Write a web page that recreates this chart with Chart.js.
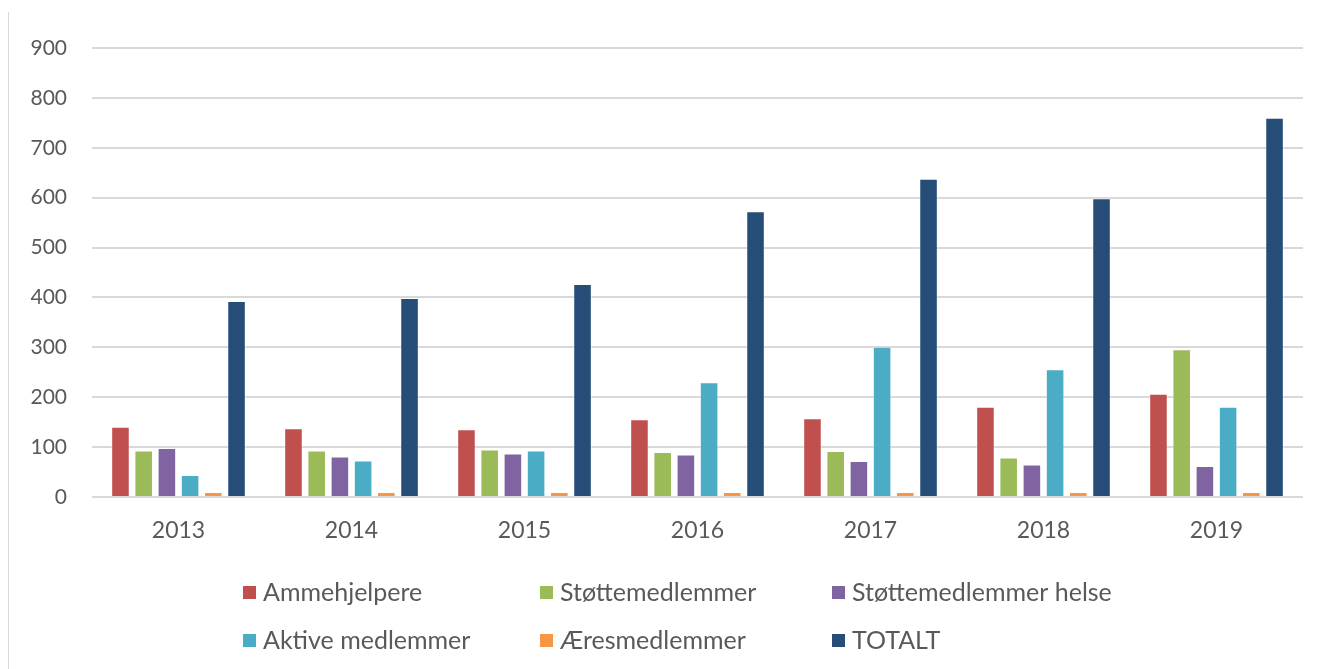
<!DOCTYPE html>
<html>
<head>
<meta charset="utf-8">
<script src="https://cdn.jsdelivr.net/npm/chart.js@4"></script>
<style>
  html, body { margin: 0; padding: 0; background: #fff; }
  #wrap { position: relative; width: 1327px; height: 669px; }
  #frame { position: absolute; left: 8px; top: 12px; bottom: 0; border-left: 1px solid #d9d9d9; }
  canvas { position: absolute; left: 0; top: 0; }
</style>
</head>
<body>
<div id="wrap">
  <div id="frame"></div>
  <canvas id="chart" width="1327" height="669"></canvas>
</div>
<script>
const years = ["2013", "2014", "2015", "2016", "2017", "2018", "2019"];

const ammehjelpere = [141, 138, 136, 156, 158, 181, 207];
const stottemedlemmer = [93, 93, 95, 90, 92, 79, 296];
const stottemedlemmerHelse = [98, 81, 87, 85, 72, 65, 62];
const aktiveMedlemmer = [44, 73, 93, 230, 301, 256, 181];
const aeresmedlemmer = [10, 10, 10, 10, 10, 10, 10];
const totalt = [393, 399, 427, 573, 638, 599, 760];

const yTicks = [0, 100, 200, 300, 400, 500, 600, 700, 800, 900];

const textColor = "#595959";
const gridColor = "#d9d9d9";

const series = [
  { label: "Ammehjelpere", data: ammehjelpere, color: "#c0504d" },
  { label: "Støttemedlemmer", data: stottemedlemmer, color: "#9bbb59" },
  { label: "Støttemedlemmer helse", data: stottemedlemmerHelse, color: "#8064a2" },
  { label: "Aktive medlemmer", data: aktiveMedlemmer, color: "#4bacc6" },
  { label: "Æresmedlemmer", data: aeresmedlemmer, color: "#f79646" },
  { label: "TOTALT", data: totalt, color: "#264d78" },
];

// Excel-style legend: 3 columns, 2 rows, drawn under the axis
const gridLegend = {
  id: "gridLegend",
  afterDraw(chart) {
    const ctx = chart.ctx;
    const colX = [243, 540, 832];
    const rowY = [592, 640];
    ctx.save();
    ctx.font = "25px Lato";
    ctx.textBaseline = "middle";
    ctx.textAlign = "left";
    chart.data.datasets.forEach((ds, i) => {
      const x = colX[i % 3];
      const y = rowY[Math.floor(i / 3)];
      ctx.fillStyle = ds.backgroundColor;
      ctx.fillRect(x, y - 6, 13, 13);
      ctx.fillStyle = textColor;
      ctx.fillText(ds.label, x + 20, y + 1);
    });
    ctx.restore();
  },
};

new Chart(document.getElementById("chart"), {
  type: "bar",
  data: {
    labels: years,
    datasets: series.map((s) => ({
      label: s.label,
      data: s.data,
      backgroundColor: s.color,
      borderColor: "rgba(255,255,255,0.4)",
      borderWidth: 1,
      categoryPercentage: 0.805,
      barPercentage: 0.8,
    })),
  },
  options: {
    responsive: false,
    animation: false,
    layout: { padding: { left: 0, right: 24, top: 48, bottom: 100 } },
    plugins: {
      legend: { display: false },
      tooltip: { enabled: false },
    },
    scales: {
      x: {
        grid: { display: false, drawTicks: false },
        border: { display: false },
        ticks: { color: textColor, font: { family: "Lato", size: 23 }, padding: 20 },
        afterFit(scale) {
          scale.height = 72;
        },
      },
      y: {
        min: yTicks[0],
        max: yTicks[yTicks.length - 1],
        afterBuildTicks(scale) {
          scale.ticks = yTicks.map((v) => ({ value: v }));
        },
        grid: { color: gridColor, lineWidth: 2, drawTicks: false },
        border: { display: false },
        ticks: { color: textColor, font: { family: "Lato", size: 21 }, padding: 25 },
        afterFit(scale) {
          scale.width = 92;
        },
      },
    },
  },
  plugins: [gridLegend],
});
</script>
</body>
</html>
